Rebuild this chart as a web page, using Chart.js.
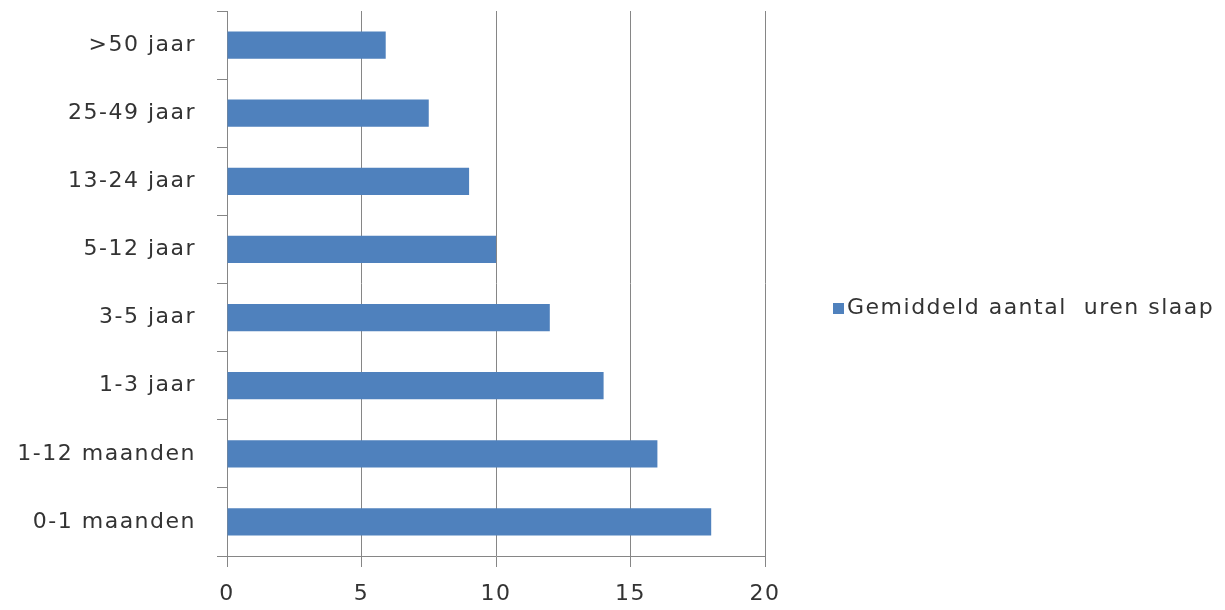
<!DOCTYPE html>
<html>
<head>
<meta charset="utf-8">
<script src="https://cdn.jsdelivr.net/npm/chart.js@4"></script>
<style>
  html, body { margin: 0; padding: 0; background: #fff; }
  #wrap { width: 1225px; height: 610px; }
</style>
</head>
<body>
<div id="wrap"><canvas id="sleepChart"></canvas></div>
<script>
// age groups, youngest first (axis is reversed so the oldest sits on top)
const ageGroups = ['0-1 maanden', '1-12 maanden', '1-3 jaar', '3-5 jaar', '5-12 jaar', '13-24 jaar', '25-49 jaar', '>50 jaar'];
const sleepHours = [18, 16, 14, 12, 10, 9, 7.5, 5.9];
const hourTicks = [0, 5, 10, 15, 20];
const seriesName = 'Gemiddeld aantal  uren slaap';

const barBlue = '#4F81BD';
const lineGray = '#868686';
const textGray = '#333333';
const labelFont = { family: 'DejaVu Sans', size: 22 };
const textSpacing = '1.5px';

// wider letter spacing for all canvas text (set again after any canvas resize)
const spacingPlugin = {
  id: 'spacing',
  beforeLayout(chart) { chart.ctx.letterSpacing = textSpacing; },
  beforeDraw(chart) { chart.ctx.letterSpacing = textSpacing; },
};

// single-entry legend to the right of the plot
const sideLegend = {
  id: 'sideLegend',
  afterDraw(chart) {
    const c = chart.ctx;
    const ds = chart.data.datasets[0];
    const x = chart.chartArea.right + 68;
    const y = chart.height / 2 + 3;
    c.save();
    c.fillStyle = ds.backgroundColor;
    c.fillRect(x, y - 5, 11, 11);
    c.font = `${labelFont.size}px "${labelFont.family}"`;
    c.fillStyle = textGray;
    c.textAlign = 'left';
    c.textBaseline = 'middle';
    c.fillText(ds.label, x + 14, y);
    c.restore();
  },
};

const ctx = document.getElementById('sleepChart').getContext('2d');

new Chart(ctx, {
  type: 'bar',
  data: {
    labels: ageGroups,
    datasets: [{
      label: seriesName,
      data: sleepHours,
      backgroundColor: barBlue,
      borderWidth: 0,
      categoryPercentage: 1,
      barPercentage: 0.4,
    }],
  },
  plugins: [spacingPlugin, sideLegend],
  options: {
    indexAxis: 'y',
    responsive: true,
    maintainAspectRatio: false,
    animation: false,
    layout: {
      padding: { top: 11, left: 0, right: 460, bottom: 0 },
    },
    plugins: {
      legend: { display: false },
      title: { display: false },
      tooltip: { enabled: false },
    },
    scales: {
      x: {
        min: 0,
        max: 20,
        afterBuildTicks: (scale) => { scale.ticks = hourTicks.map(v => ({ value: v })); },
        afterFit: (scale) => { scale.height = 54; },
        grid: {
          color: lineGray,
          lineWidth: 1,
          drawTicks: true,
          tickLength: 11,
        },
        border: { display: true, color: lineGray },
        ticks: {
          font: labelFont,
          color: textGray,
          padding: 14,
        },
      },
      y: {
        reverse: true,
        afterFit: (scale) => {
          scale.width = 227;
          scale.paddingTop = 0;
          scale.paddingBottom = 0;
        },
        grid: {
          offset: true,
          drawOnChartArea: false,
          drawTicks: true,
          tickLength: 10,
          color: lineGray,
        },
        border: { display: true, color: lineGray },
        ticks: {
          font: labelFont,
          color: textGray,
          padding: 21,
        },
      },
    },
  },
});
</script>
</body>
</html>
